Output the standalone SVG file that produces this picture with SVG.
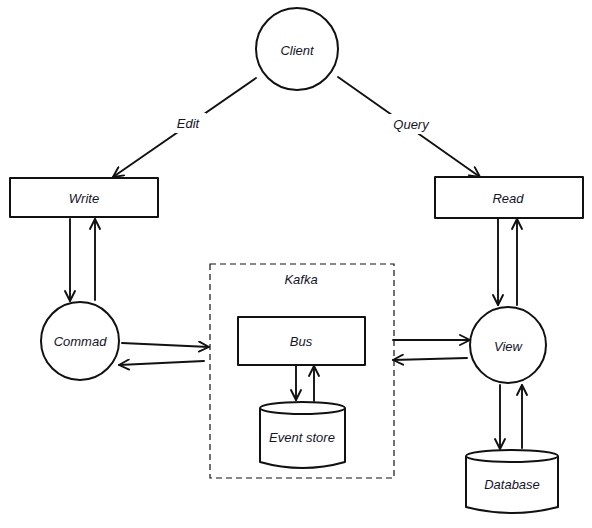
<svg xmlns="http://www.w3.org/2000/svg" width="592" height="528" viewBox="0 0 592 528">
  <style>
    .shape { fill: #ffffff; stroke: #111111; stroke-width: 2; stroke-linejoin: round; }
    .frame { fill: none; stroke: #111111; stroke-width: 1.2; stroke-dasharray: 6 4; }
    .edge { fill: none; stroke: #111111; stroke-width: 1.9; stroke-linecap: round; }
    .label { font-family: "Liberation Sans", "DejaVu Sans", sans-serif; font-style: italic; font-size: 13px; fill: #14142a; text-anchor: middle; dominant-baseline: central; }
    .elabel { fill: #ffffff; }
  </style>
  <defs>
    <marker id="arrow" viewBox="0 0 12 12" refX="11" refY="6" markerWidth="12" markerHeight="12" markerUnits="userSpaceOnUse" orient="auto">
      <path d="M1,1 L11,6 L1,11" fill="none" stroke="#111111" stroke-width="1.9" stroke-linecap="round" stroke-linejoin="round"/>
    </marker>
  </defs>

  <!-- Kafka boundary -->
  <g id="kafka">
    <rect class="frame" x="210" y="264" width="184" height="214"/>
    <text class="label" x="301" y="279">Kafka</text>
  </g>

  <g id="connectors">
    <!-- client to write / read -->
    <path class="edge" d="M256,78 L113,177" marker-end="url(#arrow)"/>
    <path class="edge" d="M338,77 L480,177" marker-end="url(#arrow)"/>
    <!-- write / commad -->
    <path class="edge" d="M70,219 L70,301" marker-end="url(#arrow)"/>
    <path class="edge" d="M95,300 L95,219" marker-end="url(#arrow)"/>
    <!-- commad / kafka -->
    <path class="edge" d="M122,343 L209,347" marker-end="url(#arrow)"/>
    <path class="edge" d="M204,361 L119,365" marker-end="url(#arrow)"/>
    <!-- bus / event store -->
    <path class="edge" d="M296,366 L296,400" marker-end="url(#arrow)"/>
    <path class="edge" d="M314,401 L314,366" marker-end="url(#arrow)"/>
    <!-- kafka / view -->
    <path class="edge" d="M393,340 L470,340" marker-end="url(#arrow)"/>
    <path class="edge" d="M467,358 L393,360" marker-end="url(#arrow)"/>
    <!-- read / view -->
    <path class="edge" d="M498,219 L498,305" marker-end="url(#arrow)"/>
    <path class="edge" d="M517,305 L517,219" marker-end="url(#arrow)"/>
    <!-- view / database -->
    <path class="edge" d="M500,385 L500,449" marker-end="url(#arrow)"/>
    <path class="edge" d="M522,448 L522,385" marker-end="url(#arrow)"/>
    <!-- edge labels -->
    <rect class="elabel" x="170" y="113" width="36" height="20"/>
    <text class="label" x="188" y="123">Edit</text>
    <rect class="elabel" x="388" y="114" width="46" height="20"/>
    <text class="label" x="411" y="124">Query</text>
  </g>

  <g id="client">
    <circle class="shape" cx="297" cy="49" r="41"/>
    <text class="label" x="297" y="50">Client</text>
  </g>

  <g id="write">
    <rect class="shape" x="10" y="178" width="148" height="39"/>
    <text class="label" x="84" y="198">Write</text>
  </g>

  <g id="read">
    <rect class="shape" x="435" y="177" width="148" height="41"/>
    <text class="label" x="508" y="198">Read</text>
  </g>

  <g id="commad">
    <circle class="shape" cx="80" cy="341" r="39"/>
    <text class="label" x="80" y="341">Commad</text>
  </g>

  <g id="bus">
    <rect class="shape" x="238" y="317" width="127" height="48"/>
    <text class="label" x="301" y="341">Bus</text>
  </g>

  <g id="event-store">
    <path class="shape" d="M260,408 A42.5,6 0 0 1 345,408 L345,462 Q302.5,474 260,462 Z"/>
    <path class="shape" d="M260,408 A42.5,6 0 0 0 345,408" fill="none"/>
    <text class="label" x="302" y="437">Event store</text>
  </g>

  <g id="view">
    <circle class="shape" cx="508" cy="345" r="38"/>
    <text class="label" x="508" y="346">View</text>
  </g>

  <g id="database">
    <path class="shape" d="M466,456 A46,6 0 0 1 558,456 L558,507 Q512,519 466,507 Z"/>
    <path class="shape" d="M466,456 A46,6 0 0 0 558,456" fill="none"/>
    <text class="label" x="512" y="484">Database</text>
  </g>
</svg>
